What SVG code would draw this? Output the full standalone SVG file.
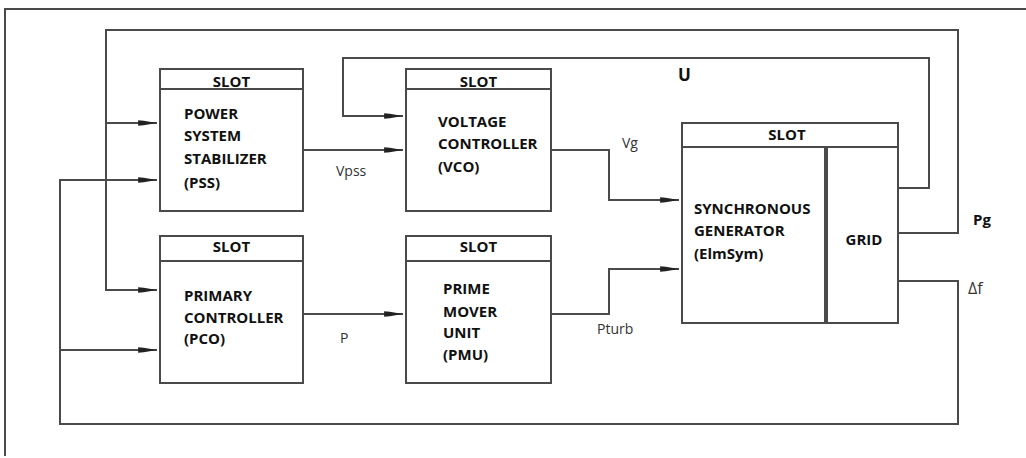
<svg xmlns="http://www.w3.org/2000/svg" width="1026" height="458" viewBox="0 0 1026 458">
<style>
.box{fill:#fff;stroke:#4a4a4a;stroke-width:2}
.ln{fill:none;stroke:#4a4a4a;stroke-width:2}
.arr{marker-end:url(#ah)}
.t{font-family:"Open Sans","Liberation Sans",sans-serif;font-size:15px;font-weight:700;fill:#111}
.h{font-family:"Open Sans","Liberation Sans",sans-serif;font-size:15px;font-weight:700;fill:#111;text-anchor:middle}
.l{font-family:"Open Sans","Liberation Sans",sans-serif;font-size:14px;fill:#333}
</style>
<defs>
<marker id="ah" markerUnits="userSpaceOnUse" markerWidth="20" markerHeight="10" viewBox="0 0 18 8" refX="17" refY="4" orient="auto">
<path d="M0,1.5 L5,2 L17,4 L5,6 L0,6.5 Z" fill="#222"/>
</marker>
</defs>
<rect width="1026" height="458" fill="#fff"/>
<g id="frame"><path class="ln" d="M5,456 V9 H1026" stroke="#333"/></g>
<g id="connectors">
<path class="ln arr" d="M898,233 H958 V30 H106 V290 H157"/>
<path class="ln arr" d="M106,123 H157"/>
<path class="ln arr" d="M898,281 H958 V424 H60 V180 H157"/>
<path class="ln arr" d="M60,350 H157"/>
<path class="ln arr" d="M898,188 H929 V58 H343 V116 H403"/>
<path class="ln arr" d="M303,150 H403"/>
<path class="ln arr" d="M551,150 H609 V200 H679"/>
<path class="ln arr" d="M303,314 H403"/>
<path class="ln arr" d="M551,314 H609 V269 H679"/>
</g>
<g id="pss">
<rect class="box" x="160" y="69" width="143" height="142"/>
<line class="ln" x1="160" y1="89" x2="303" y2="89"/>
<text class="h" x="231.5" y="87">SLOT</text>
<text class="t" x="184" y="119">POWER</text>
<text class="t" x="184" y="141">SYSTEM</text>
<text class="t" x="184" y="164">STABILIZER</text>
<text class="t" x="184" y="188">(PSS)</text>
</g>
<g id="vco">
<rect class="box" x="406" y="69" width="145" height="142"/>
<line class="ln" x1="406" y1="89" x2="551" y2="89"/>
<text class="h" x="478.5" y="87">SLOT</text>
<text class="t" x="438" y="127">VOLTAGE</text>
<text class="t" x="438" y="149">CONTROLLER</text>
<text class="t" x="438" y="172">(VCO)</text>
</g>
<g id="pco">
<rect class="box" x="160" y="236" width="143" height="147"/>
<line class="ln" x1="160" y1="261" x2="303" y2="261"/>
<text class="h" x="231.5" y="252">SLOT</text>
<text class="t" x="184" y="301">PRIMARY</text>
<text class="t" x="184" y="323">CONTROLLER</text>
<text class="t" x="184" y="344">(PCO)</text>
</g>
<g id="pmu">
<rect class="box" x="406" y="236" width="145" height="147"/>
<line class="ln" x1="406" y1="261" x2="551" y2="261"/>
<text class="h" x="478.5" y="252">SLOT</text>
<text class="t" x="443" y="294">PRIME</text>
<text class="t" x="443" y="317">MOVER</text>
<text class="t" x="443" y="338">UNIT</text>
<text class="t" x="443" y="360">(PMU)</text>
</g>
<g id="sg">
<rect class="box" x="682" y="123" width="216" height="24"/>
<text class="h" x="787" y="140">SLOT</text>
<rect class="box" x="682" y="147" width="143" height="176"/>
<text class="t" x="694" y="214">SYNCHRONOUS</text>
<text class="t" x="694" y="236">GENERATOR</text>
<text class="t" x="694" y="259">(ElmSym)</text>
</g>
<g id="grid">
<rect class="box" x="827" y="147" width="71" height="176"/>
<text class="h" x="864" y="245">GRID</text>
</g>
<g id="labels">
<text class="l" x="336" y="176">Vpss</text>
<text class="l" x="622" y="148">Vg</text>
<text class="l" x="340" y="343">P</text>
<text class="l" x="597" y="334">Pturb</text>
<text class="t" x="678" y="81" style="font-size:17px">U</text>
<text class="t" x="973" y="225">Pg</text>
<text class="l" x="968" y="294" style="font-size:16px">Δf</text>
</g>
</svg>
